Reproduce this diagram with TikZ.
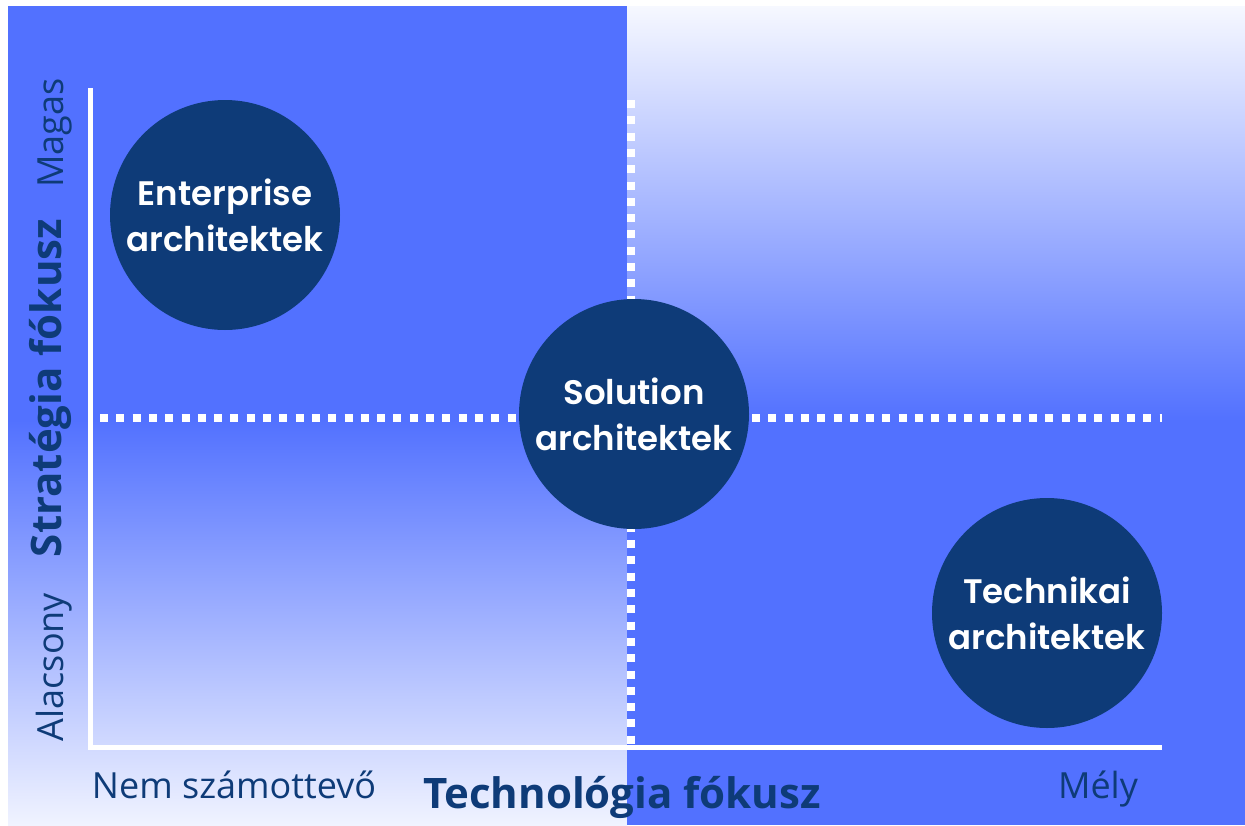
\documentclass[tikz,border=0pt]{standalone}
\usepackage{fontspec}
\newfontfamily\osans{Open Sans}
\IfFontExistsTF{Poppins SemiBold}{\newfontfamily\circfont{Poppins SemiBold}\def\circwt{}}{%
  \IfFontExistsTF{Poppins Medium}{\newfontfamily\circfont{Poppins Medium}\def\circwt{}}{%
    \newfontfamily\circfont{Poppins}\def\circwt{\bfseries}}}
\definecolor{bgblue}{RGB}{82,113,255}
\definecolor{navy}{RGB}{14,59,120}
\definecolor{paleA}{RGB}{246,248,255}
\definecolor{paleB}{RGB}{240,243,255}
\tikzset{
  dotline/.style={white, line width=8pt, dash pattern=on 8pt off 8.3pt},
  axisline/.style={white, line width=5pt},
  circ/.style={circle, fill=navy, minimum size=230pt, inner sep=0pt, text=white, align=center,
    font=\circfont\circwt\fontsize{34}{46}\selectfont},
  lab/.style={text=navy, inner sep=0pt, font=\osans\fontsize{36}{40}\selectfont},
  blab/.style={text=navy, inner sep=0pt, font=\osans\bfseries\fontsize{42}{46}\selectfont}
}
\begin{document}
\begin{tikzpicture}[x=1pt,y=-1pt]
\useasboundingbox (0,0) rectangle (1245,825);
\fill[white] (0,0) rectangle (1245,825);
% backgrounds
\fill[bgblue] (8,6) rectangle (627,420.5);
\shade[top color=bgblue, bottom color=paleB] (8,420) rectangle (627,825);
\shade[top color=paleA, bottom color=bgblue] (627,6) rectangle (1245,420.5);
\fill[bgblue] (627,420) rectangle (1245,825);
% dotted quadrant lines
\coordinate (vtop) at (631,100);
\coordinate (vbot) at (631,745);
\coordinate (hleft) at (100,418);
\coordinate (hright) at (1162,418);
\draw[dotline] (vtop) -- (vbot);
\draw[dotline] (hleft) -- (hright);
% axes
\coordinate (ytop) at (90,88);
\coordinate (origin) at (90,747);
\coordinate (xend) at (1162,747);
\draw[axisline] (ytop) -- (origin) -- (xend);
% circles
\node[circ] (ent) at (225,215) {Enterprise\\architektek};
\node[circ] (sol) at (634,414) {Solution\\architektek};
\node[circ] (tech) at (1047,613) {Technikai\\architektek};
% axis labels
\node[lab, rotate=90, anchor=base] (magas) at (63,133) {Magas};
\node[lab, rotate=90, anchor=base] (alacsony) at (63,667) {Alacsony};
\node[blab, rotate=90, anchor=base] (strat) at (61,388) {Stratégia fókusz};
\node[lab, anchor=base] (nem) at (234,798) {Nem számottevő};
\node[blab, anchor=base] (techlab) at (622,808) {Technológia fókusz};
\node[lab, anchor=base] (mely) at (1098,798) {Mély};
\end{tikzpicture}
\end{document}
